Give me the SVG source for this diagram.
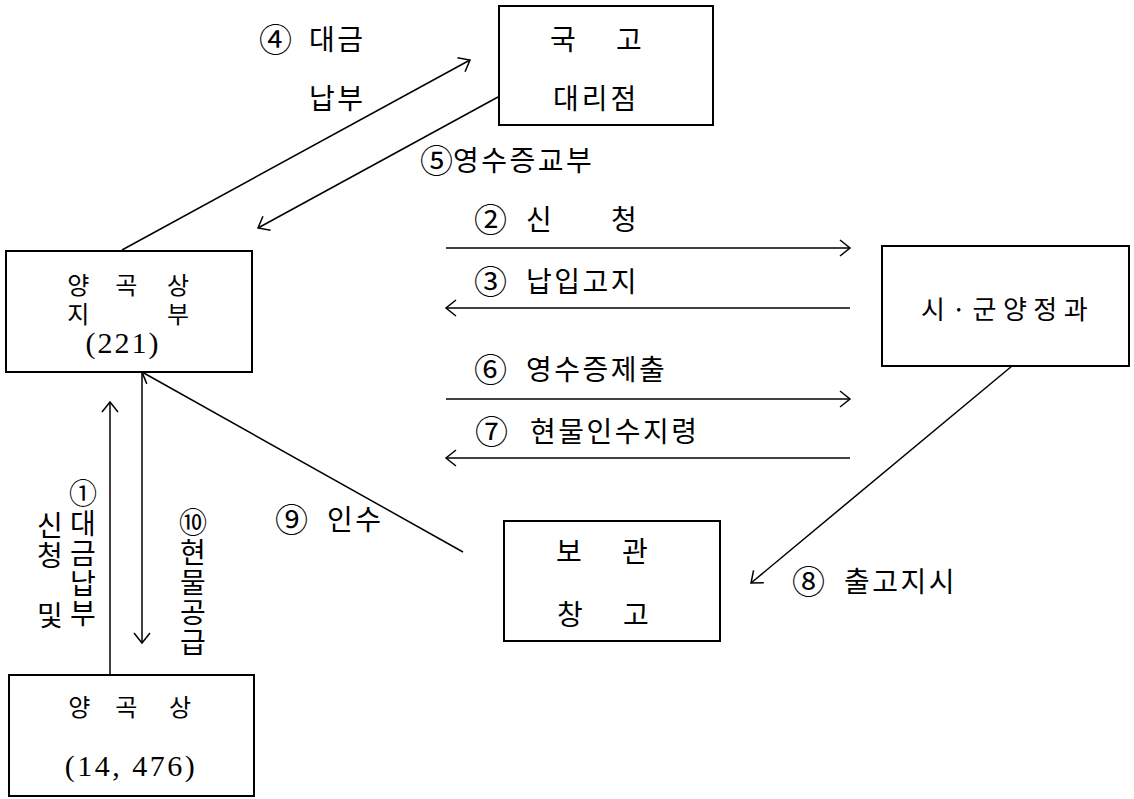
<svg xmlns="http://www.w3.org/2000/svg" width="1134" height="799" viewBox="0 0 1134 799">
<style>
text { font-family: 'Noto Sans CJK KR', 'Noto Sans', sans-serif; fill: #000; dominant-baseline: central; }
.lbl { font-size: 28px; letter-spacing: 2.5px; }
.c { font-size: 33px; letter-spacing: 0; }
.vt { font-size: 28px; letter-spacing: 2px; writing-mode: vertical-rl; text-orientation: upright; }
.bt { font-size: 24px; text-anchor: middle; }
.bt2 { font-size: 28px; }
.num { font-family: 'Liberation Serif', serif; font-size: 30px; letter-spacing: 2px; text-anchor: middle; }
.box { fill: #fff; stroke: #000; stroke-width: 2; }
.ln { stroke: #000; stroke-width: 1.5; fill: none; marker-end: url(#ah); }
</style>
<defs>
<marker id="ah" markerUnits="userSpaceOnUse" markerWidth="24" markerHeight="24" viewBox="-12 -12 24 24" refX="0" refY="0" orient="auto">
<path d="M-10,-8 L0,0 L-10,8" fill="none" stroke="#000" stroke-width="1.5"/>
</marker>
</defs>
<rect width="1134" height="799" fill="#fff"/>

<g id="connectors">
<line class="ln" x1="122" y1="250" x2="470" y2="60"/>
<line class="ln" x1="498" y1="97" x2="258" y2="228"/>
<line class="ln" x1="446" y1="248" x2="850" y2="248"/>
<line class="ln" x1="850" y1="308" x2="446" y2="308"/>
<line class="ln" x1="446" y1="399" x2="850" y2="399"/>
<line class="ln" x1="850" y1="458" x2="446" y2="458"/>
<line class="ln" x1="1012" y1="366" x2="751" y2="583"/>
<line class="ln" x1="463" y1="552" x2="142" y2="372"/>
<line class="ln" x1="110" y1="675" x2="110" y2="402"/>
<line class="ln" x1="142" y1="372" x2="142" y2="643"/>
</g>

<g id="labels">
<text class="lbl"><tspan class="c" x="259" y="38">④</tspan> <tspan x="309" y="38">대금</tspan></text>
<text class="lbl" x="309" y="97">납부</text>
<text class="lbl" x="420" y="159"><tspan class="c">⑤</tspan><tspan>영수증교부</tspan></text>
<text class="lbl"><tspan class="c" x="474" y="218">②</tspan> <tspan x="526" y="218">신</tspan> <tspan x="611" y="218">청</tspan></text>
<text class="lbl"><tspan class="c" x="474" y="280">③</tspan> <tspan x="526" y="280">납입고지</tspan></text>
<text class="lbl"><tspan class="c" x="474" y="368">⑥</tspan> <tspan x="526" y="368">영수증제출</tspan></text>
<text class="lbl"><tspan class="c" x="475" y="430">⑦</tspan> <tspan x="530" y="430">현물인수지령</tspan></text>
<text class="lbl"><tspan class="c" x="792" y="580">⑧</tspan> <tspan x="844" y="580">출고지시</tspan></text>
<text class="lbl"><tspan class="c" x="275" y="518">⑨</tspan> <tspan x="327" y="518">인수</tspan></text>
<text class="vt" x="83" y="479">①대금납부</text>
<text class="vt" x="50" y="511">신청 및</text>
<text class="vt" x="193" y="508">⑩현물공급</text>
</g>

<g id="node-gukgo">
<rect class="box" x="499" y="6" width="214" height="119"/>
<text class="bt2" text-anchor="middle"><tspan x="566" y="38">국</tspan> <tspan x="629" y="38">고</tspan></text>
<text class="bt2" x="553" y="97" style="letter-spacing:3px">대리점</text>
</g>

<g id="node-jibu">
<rect class="box" x="6" y="251" width="246" height="121"/>
<text class="bt"><tspan x="81" y="283">양</tspan> <tspan x="129" y="283">곡</tspan> <tspan x="178" y="283">상</tspan></text>
<text class="bt"><tspan x="81" y="312">지</tspan> <tspan x="178" y="312">부</tspan></text>
<text class="num" x="123" y="342">(221)</text>
</g>

<g id="node-sigun">
<rect class="box" x="882" y="246" width="247" height="120"/>
<text x="921" y="307" style="font-size:26px;letter-spacing:6.5px">시·군양정과</text>
</g>

<g id="node-bogwan">
<rect class="box" x="504" y="521" width="216" height="120"/>
<text class="bt2" text-anchor="middle"><tspan x="572" y="550">보</tspan> <tspan x="635" y="550">관</tspan></text>
<text class="bt2" text-anchor="middle"><tspan x="573" y="613">창</tspan> <tspan x="636" y="613">고</tspan></text>
</g>

<g id="node-yanggoksang">
<rect class="box" x="9" y="675" width="245" height="121"/>
<text class="bt"><tspan x="82" y="705">양</tspan> <tspan x="129" y="705">곡</tspan> <tspan x="180" y="705">상</tspan></text>
<text class="num" x="131" y="765" style="letter-spacing:2.5px">(14, 476)</text>
</g>
</svg>
